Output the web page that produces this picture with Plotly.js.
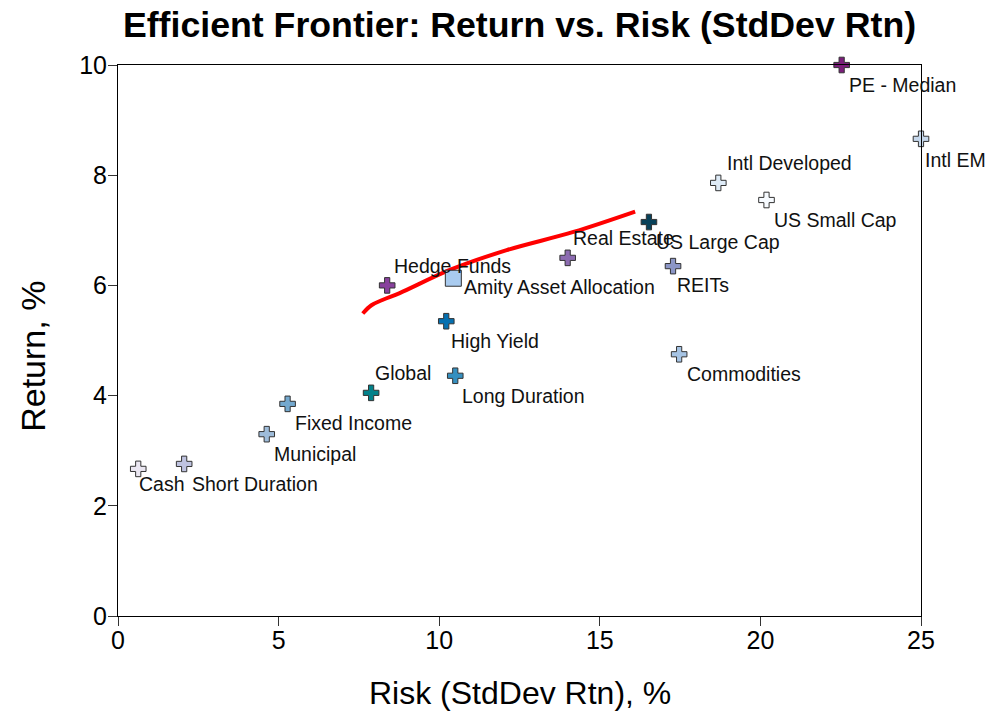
<!DOCTYPE html>
<html>
<head>
<meta charset="utf-8">
<script src="https://cdn.plot.ly/plotly-3.0.1.min.js"></script>
<style>html,body{margin:0;padding:0;background:#fff;}#chart{width:1005px;height:713px;}</style>
</head>
<body>
<div id="chart"></div>
<script>
// Asset classes
const assetNames = ["PE - Median","Intl EM","Intl Developed","US Small Cap","US Large Cap","Real Estate","REITs","Commodities","Hedge Funds","High Yield","Long Duration","Global","Fixed Income","Municipal","Short Duration","Cash"];
const assetRisk  = [22.53, 25.0, 18.69, 20.19, 16.53, 14.0, 17.28, 17.47, 8.38, 10.22, 10.5, 7.88, 5.28, 4.63, 2.06, 0.63];
const assetReturn= [10.0, 8.66, 7.86, 7.55, 7.15, 6.5, 6.35, 4.75, 6.0, 5.35, 4.36, 4.05, 3.85, 3.3, 2.76, 2.67];
const assetColors= ["#7b1e7a","#c6d8ec","#deebf7","#f7fbff","#084159","#8c6bb1","#8c96c6","#a6c4e4","#88419d","#0570b0","#3690c0","#02818a","#74a9cf","#9ebcda","#bfc3e0","#ebe7f2"];
// label placement relative to the marker (pixels): [dx, dy]
const labelOffset = [[5,-20],[2,-21],[7,20],[5,-20],[5,-20],[3,20],[2,-19],[6,-20],[5,19],[3,-20],[5,-20],[2,20],[5,-19],[5,-20],[6,-20],[-1,-15]];

// Portfolio
const portfolioName = "Amity Asset Allocation";
const portfolioRisk = [10.44];
const portfolioReturn = [6.13];

// Efficient frontier
const frontierRisk   = [7.62, 7.89, 8.25, 8.77, 10.33, 12.10, 14.18, 16.10];
const frontierReturn = [5.49, 5.64, 5.74, 5.86, 6.28, 6.64, 6.97, 7.34];

const FONT = "Liberation Sans, Arial, sans-serif";
const LABEL_SIZE = 19.5;

const traces = [
  {
    x: frontierRisk, y: frontierReturn, mode: "lines", type: "scatter",
    line: {color: "#ff0000", width: 4, shape: "spline"},
    hoverinfo: "skip", showlegend: false
  },
  {
    x: assetRisk, y: assetReturn, mode: "markers", type: "scatter",
    marker: {symbol: "cross", size: 13, color: assetColors, line: {color: "#333", width: 1}},
    cliponaxis: false, showlegend: false
  },
  {
    x: portfolioRisk, y: portfolioReturn, mode: "markers", type: "scatter",
    marker: {symbol: "square", size: 16, color: "#a9cbef", line: {color: "#333", width: 1}},
    cliponaxis: false, showlegend: false
  }
];

const annotations = assetNames.map((name, i) => ({
  x: assetRisk[i], y: assetReturn[i], xref: "x", yref: "y", text: name, showarrow: false,
  xanchor: "left", yanchor: "middle", xshift: labelOffset[i][0], yshift: labelOffset[i][1],
  font: {family: FONT, size: LABEL_SIZE, color: "#111"}
}));
annotations.push({
  x: portfolioRisk[0], y: portfolioReturn[0], xref: "x", yref: "y", text: portfolioName, showarrow: false,
  xanchor: "left", yanchor: "middle", xshift: 9, yshift: -9,
  font: {family: FONT, size: LABEL_SIZE, color: "#111"}
});
// axis titles
annotations.push({
  x: -0.106, y: 0.472, xref: "paper", yref: "paper", text: "Return, %", showarrow: false, textangle: -90,
  xanchor: "center", yanchor: "middle", font: {family: FONT, size: 34, color: "#000"}
});
annotations.push({
  x: 0.5, y: -0.14, xref: "paper", yref: "paper", text: "Risk (StdDev Rtn), %", showarrow: false,
  xanchor: "center", yanchor: "middle", font: {family: FONT, size: 32, color: "#000"}
});

const layout = {
  width: 1005, height: 713,
  margin: {l: 118, r: 84, t: 65, b: 97},
  paper_bgcolor: "#fff", plot_bgcolor: "#fff",
  font: {family: FONT, color: "#000"},
  title: {text: "<b>Efficient Frontier: Return vs. Risk (StdDev Rtn)</b>", font: {family: FONT, size: 35.7, color: "#000"}, x: 0.5, xref: "paper", y: 0.965, yanchor: "middle"},
  xaxis: {
    range: [0, 25], tickvals: [0,5,10,15,20,25], ticks: "outside", ticklen: 9, tickcolor: "#333",
    ticklabelstandoff: -7,
    showline: true, linecolor: "#000", linewidth: 1, mirror: true, showgrid: false, zeroline: false,
    tickfont: {family: FONT, size: 25, color: "#000"}
  },
  yaxis: {
    range: [0, 10], tickvals: [0,2,4,6,8,10], ticks: "outside", ticklen: 9, tickcolor: "#333",
    ticklabelstandoff: -4,
    showline: true, linecolor: "#000", linewidth: 1, mirror: true, showgrid: false, zeroline: false,
    tickfont: {family: FONT, size: 25, color: "#000"}
  },
  annotations: annotations
};

Plotly.newPlot("chart", traces, layout, {displayModeBar: false, staticPlot: true});
</script>
</body>
</html>
